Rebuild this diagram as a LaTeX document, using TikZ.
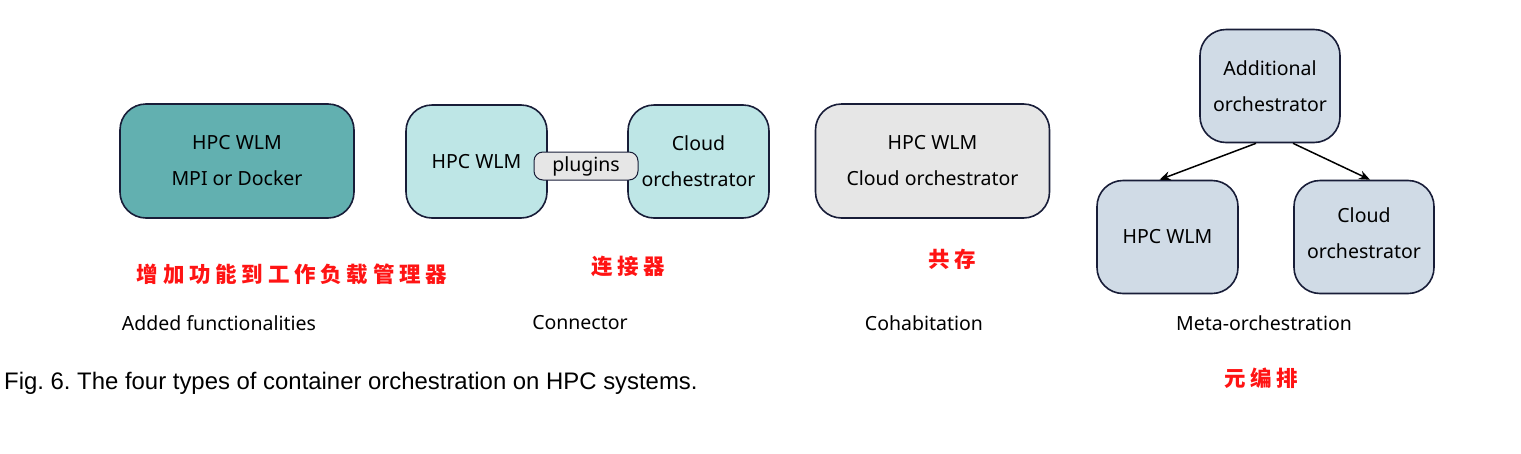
\documentclass[tikz,border=0pt]{standalone}
\usepackage{fontspec}
\setmainfont{Noto Sans}
\newfontfamily\captionFont{Liberation Sans}
\newfontfamily\cjkFont[LetterSpace=22]{Noto Sans CJK SC}
\usetikzlibrary{positioning}
\usetikzlibrary{arrows.meta}
\frenchspacing
\tikzstyle{pixels} = [x = 1pt, y = -1pt]
\definecolor{borderColor}{RGB}{24,29,56}
\definecolor{tealFill}{RGB}{98,176,176}
\definecolor{lightTealFill}{RGB}{190,230,230}
\definecolor{greyFill}{RGB}{230,230,230}
\definecolor{blueGreyFill}{RGB}{208,219,230}
\definecolor{cjkRed}{RGB}{255,20,20}
\tikzstyle{boxStyle} = [draw=borderColor, line width=1.6pt, rounded corners=26pt, align=center, inner sep=0pt, font=\fontsize{19.5}{36}\selectfont]
\tikzstyle{wideBox} = [boxStyle, minimum width=234pt, minimum height=114pt]
\tikzstyle{squareBox} = [boxStyle, minimum width=141pt, minimum height=113pt]
\tikzstyle{pluginStyle} = [draw=borderColor, line width=1pt, fill=greyFill, rounded corners=9pt, minimum width=104pt, minimum height=28pt, inner sep=0pt, font=\fontsize{19.5}{22}\selectfont]
\tikzstyle{typeLabel} = [font=\fontsize{19.5}{22}\selectfont]
\tikzstyle{cjkLabel} = [text=cjkRed, font=\fontsize{21.5}{24}\cjkFont\bfseries]
\tikzstyle{metaArrow} = [draw=black, line width=1.5pt, -{Stealth[length=11pt, width=9pt]}]
\begin{document}
\begin{tikzpicture}[pixels]
  \useasboundingbox (0,0) rectangle (1521,453);
  \node [wideBox, fill=tealFill] (added) at (237,161) {HPC WLM\\MPI or Docker};
  \node [squareBox, fill=lightTealFill] (connHpc) at (476.5,161.5) {HPC WLM};
  \node [squareBox, fill=lightTealFill] (connCloud) at (698.5,161.5) {Cloud\\orchestrator};
  \node [pluginStyle] (plugins) at (586,166) {plugins};
  \node [wideBox, fill=greyFill] (cohab) at (932.5,161) {HPC WLM\\Cloud orchestrator};
  \node [squareBox, fill=blueGreyFill, minimum width=140pt] (metaTop) at (1270,86) {Additional\\orchestrator};
  \node [squareBox, fill=blueGreyFill] (metaHpc) at (1167.5,237) {HPC WLM};
  \node [squareBox, fill=blueGreyFill, minimum width=140pt, text depth=8pt] (metaCloud) at (1364,237) {Cloud\\orchestrator};
  \draw [metaArrow] ([xshift=-14pt]metaTop.south) -- ([xshift=-8pt]metaHpc.north);
  \draw [metaArrow] ([xshift=23pt]metaTop.south) -- ([xshift=6pt]metaCloud.north);
  \node [cjkLabel] (addedCjk) at (292,274) {增加功能到工作负载管理器};
  \node [cjkLabel] (connCjk) at (628,266) {连接器};
  \node [cjkLabel] (cohabCjk) at (952,259) {共存};
  \node [cjkLabel] (metaCjk) at (1261,378) {元编排};
  \node [typeLabel] (addedText) at (219,323) {Added functionalities};
  \node [typeLabel] (connText) at (580,323) {Connector};
  \node [typeLabel] (cohabText) at (924,323) {Cohabitation};
  \node [typeLabel] (metaText) at (1264,323) {Meta-orchestration};
  \node [anchor=west, inner sep=0pt, font=\fontsize{23.9}{26}\captionFont] (caption) at (4,383) {Fig. 6. The four types of container orchestration on HPC systems.};
\end{tikzpicture}
\end{document}
